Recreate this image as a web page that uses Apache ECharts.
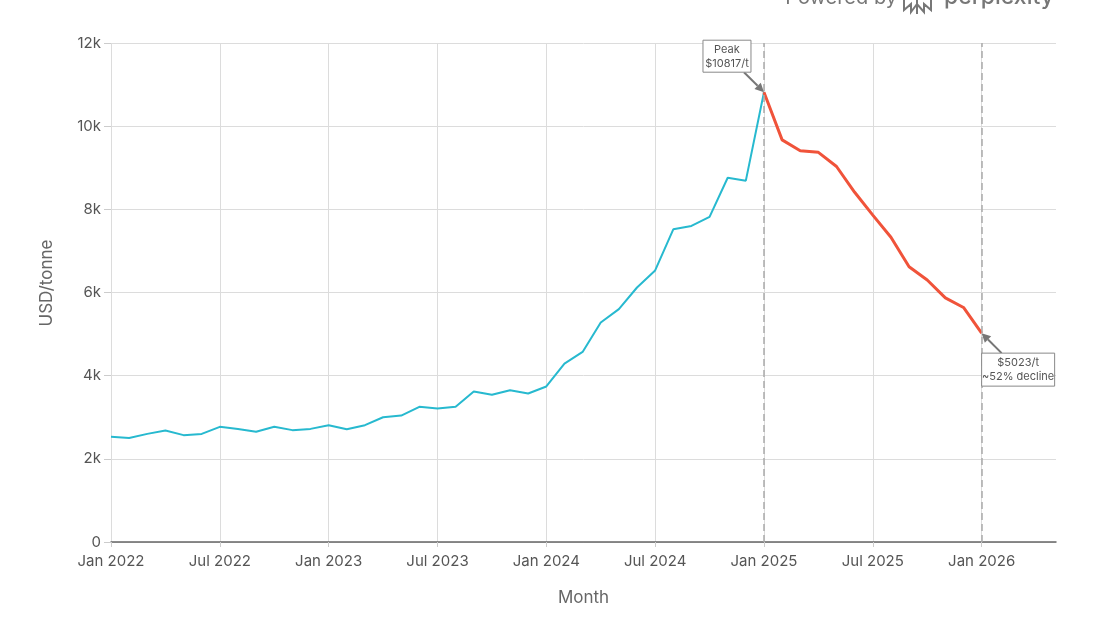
<!DOCTYPE html>
<html>
<head>
<meta charset="utf-8">
<script src="https://cdn.jsdelivr.net/npm/echarts@6/dist/echarts.min.js"></script>
<style>
  html, body { margin: 0; padding: 0; background: #fff; }
  #chart { width: 1112px; height: 626px; }
</style>
</head>
<body>
<div id="chart"></div>
<script>
// monthly prices, Jan 2022 .. Jan 2026
const months = [
  '2022-01', '2022-02', '2022-03', '2022-04', '2022-05', '2022-06',
  '2022-07', '2022-08', '2022-09', '2022-10', '2022-11', '2022-12',
  '2023-01', '2023-02', '2023-03', '2023-04', '2023-05', '2023-06',
  '2023-07', '2023-08', '2023-09', '2023-10', '2023-11', '2023-12',
  '2024-01', '2024-02', '2024-03', '2024-04', '2024-05', '2024-06',
  '2024-07', '2024-08', '2024-09', '2024-10', '2024-11', '2024-12',
  '2025-01', '2025-02', '2025-03', '2025-04', '2025-05', '2025-06',
  '2025-07', '2025-08', '2025-09', '2025-10', '2025-11', '2025-12',
  '2026-01'
];
// before the peak (blue)
const riseValues = [
  2530, 2500, 2600, 2680, 2570, 2600, 2770, 2720, 2650, 2770, 2690, 2720,
  2810, 2710, 2810, 3000, 3040, 3250, 3210, 3250, 3620, 3540, 3650, 3570,
  3740, 4290, 4570, 5280, 5600, 6120, 6530, 7520, 7600, 7820, 8760, 8690,
  10817
];
// from the peak on (red)
const fallValues = [
  10817, 9670, 9410, 9370, 9030, 8410, 7860, 7330, 6620, 6300, 5870, 5640,
  5023
];
const yTicks = [0, 2000, 4000, 6000, 8000, 10000, 12000];
const peakMonth = '2025-01';
const lastMonth = '2026-01';
const monthNames = ['Jan', 'Feb', 'Mar', 'Apr', 'May', 'Jun', 'Jul', 'Aug', 'Sep', 'Oct', 'Nov', 'Dec'];

const idx = m => months.indexOf(m);
const riseData = riseValues.map((v, i) => [i, v]);
const fallData = fallValues.map((v, i) => [idx(peakMonth) + i, v]);

const font = 'Inter, "Noto Sans", sans-serif';
const chart = echarts.init(document.getElementById('chart'));

const option = {
  animation: false,
  textStyle: { fontFamily: font },
  grid: { left: 111, right: 56, top: 43, bottom: 84 },
  xAxis: {
    type: 'value',
    min: 0,
    max: 52.1,
    interval: 6,
    name: 'Month',
    nameLocation: 'middle',
    nameGap: 47,
    nameTextStyle: { color: '#666', fontSize: 17, fontFamily: font },
    axisLine: { show: true, lineStyle: { color: '#666', width: 1.5 } },
    axisTick: { show: true, length: 5, lineStyle: { color: '#ccc' } },
    axisLabel: {
      color: '#555',
      fontSize: 15,
      margin: 12,
      showMaxLabel: false,
      formatter(v) {
        const y = 2022 + Math.floor(v / 12);
        return monthNames[v % 12] + ' ' + y;
      }
    },
    splitLine: { show: true, showMaxLine: false, lineStyle: { color: '#dcdcdc', width: 1 } }
  },
  yAxis: {
    type: 'value',
    min: yTicks[0],
    max: yTicks[yTicks.length - 1],
    interval: 2000,
    axisLine: { show: false },
    axisTick: { show: true, length: 7, lineStyle: { color: '#ccc' } },
    axisLabel: {
      color: '#555',
      fontSize: 15,
      margin: 10,
      formatter: v => (v === 0 ? '0' : v / 1000 + 'k')
    },
    splitLine: { show: true, lineStyle: { color: '#dcdcdc', width: 1 } }
  },
  series: [
    {
      name: 'rise',
      type: 'line',
      data: riseData,
      showSymbol: false,
      lineStyle: { color: '#27b9cf', width: 2 },
      z: 3,
      markLine: {
        silent: true,
        symbol: 'none',
        label: { show: false },
        lineStyle: { color: '#aaa', type: [7, 4], width: 1.5 },
        data: [{ xAxis: idx(peakMonth) }, { xAxis: idx(lastMonth) }]
      }
    },
    {
      name: 'fall',
      type: 'line',
      data: fallData,
      showSymbol: false,
      lineStyle: { color: '#f0533a', width: 3 },
      z: 4
    }
  ]
};
chart.setOption(option);

// annotation: box + arrow pointing at a data point
function annotation(point, lines, boxW, boxH, dx, dy, tailDx, tailDy) {
  const p = chart.convertToPixel({ gridIndex: 0 }, point);
  const bx = p[0] + dx, by = p[1] + dy;
  const tx = p[0] + tailDx, ty = p[1] + tailDy;
  const ang = Math.atan2(p[1] - ty, p[0] - tx);
  const hl = 9, hw = 4.5;
  const baseX = p[0] - hl * Math.cos(ang), baseY = p[1] - hl * Math.sin(ang);
  const nx = -Math.sin(ang), ny = Math.cos(ang);
  return [
    {
      type: 'line',
      shape: { x1: tx, y1: ty, x2: baseX, y2: baseY },
      style: { stroke: '#777', lineWidth: 2 },
      z: 100
    },
    {
      type: 'polygon',
      shape: { points: [[p[0], p[1]], [baseX + nx * hw, baseY + ny * hw], [baseX - nx * hw, baseY - ny * hw]] },
      style: { fill: '#777' },
      z: 100
    },
    {
      type: 'rect',
      shape: { x: bx, y: by, width: boxW, height: boxH },
      style: { fill: '#fff', stroke: '#888', lineWidth: 1 },
      z: 101
    },
    {
      type: 'text',
      x: bx + boxW / 2,
      y: by + boxH / 2,
      style: {
        text: lines.join('\n'),
        fill: '#555',
        font: '11px ' + font,
        align: 'center',
        verticalAlign: 'middle',
        lineHeight: 14
      },
      z: 102
    }
  ];
}

const peakPt = [idx(peakMonth), riseValues[riseValues.length - 1]];
const lastPt = [idx(lastMonth), fallValues[fallValues.length - 1]];

const graphics = []
  .concat(annotation(peakPt, ['Peak', '$10817/t'], 48, 32, -61, -52, -20, -20))
  .concat(annotation(lastPt, ['$5023/t', '~52% decline'], 73, 33, 0, 20, 20, 20));

// y axis title
graphics.push({
  type: 'text',
  x: 47,
  y: 283,
  rotation: Math.PI / 2,
  style: {
    text: 'USD/tonne',
    fill: '#666',
    font: '17px ' + font,
    align: 'center',
    verticalAlign: 'middle'
  }
});

// "Powered by perplexity" watermark, cut by top edge
graphics.push(
  {
    type: 'text', right: 215, top: -12,
    style: { text: 'Powered by', fill: '#777', font: '20px ' + font }
  },
  {
    type: 'text', right: 58, top: -14,
    style: { text: 'perplexity', fill: '#777', font: '500 23px ' + font }
  },
  {
    type: 'polyline',
    shape: { points: [[904, 0], [904, 10], [911, 4], [911, 12], [917, 4], [924, 12], [924, 4], [931, 10], [931, 0]] },
    style: { stroke: '#777', fill: null, lineWidth: 2 }
  },
  {
    type: 'line',
    shape: { x1: 917, y1: -2, x2: 917, y2: 14 },
    style: { stroke: '#777', lineWidth: 2 }
  }
);

chart.setOption({ graphic: graphics });
</script>
</body>
</html>
